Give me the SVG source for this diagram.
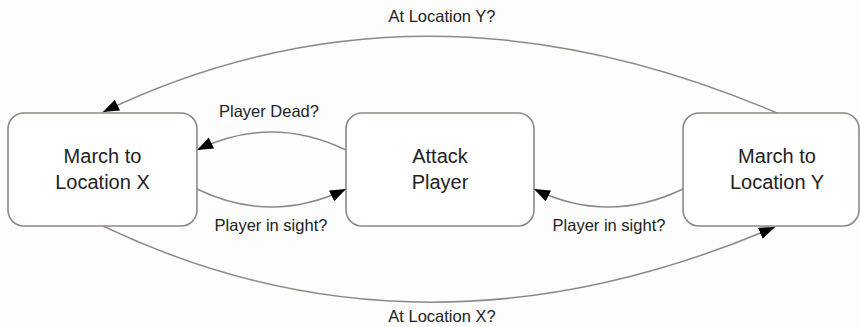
<svg xmlns="http://www.w3.org/2000/svg" width="860" height="327" viewBox="0 0 860 327">
<style>
.node rect{fill:#ffffff;stroke:#8e8884;stroke-width:1.6}
.node text{font-family:"Liberation Sans",Arial,sans-serif;font-size:20px;fill:#222;text-anchor:middle}
.edge{fill:none;stroke:#8e8884;stroke-width:1.5;marker-end:url(#arr)}
.lbl{font-family:"Liberation Sans",Arial,sans-serif;font-size:16.5px;fill:#222;text-anchor:middle}
</style>
<defs>
<marker id="arr" markerUnits="userSpaceOnUse" markerWidth="18" markerHeight="14" refX="16" refY="6" orient="auto">
<path d="M0,0 L16,6 L0,12 z" fill="#000"/>
</marker>
</defs>
<rect width="860" height="327" fill="#fdfdfd"/>
<g id="connectors">
<path class="edge" d="M777,113 Q420,-40 103,112"/>
<path class="edge" d="M346,150 Q271,114 197,150"/>
<path class="edge" d="M197,189 Q271,225 346,189"/>
<path class="edge" d="M683,189 Q608,225 534,189"/>
<path class="edge" d="M103,226 Q421,378 775,227"/>
<text class="lbl" x="442" y="22">At Location Y?</text>
<text class="lbl" x="269" y="117">Player Dead?</text>
<text class="lbl" x="271" y="231">Player in sight?</text>
<text class="lbl" x="609" y="231">Player in sight?</text>
<text class="lbl" x="442" y="322">At Location X?</text>
</g>
<g id="marchX" class="node">
<rect x="8" y="113" width="189" height="113" rx="16"/>
<text x="102.5" y="163">March to</text>
<text x="102.5" y="189">Location X</text>
</g>
<g id="attack" class="node">
<rect x="346" y="113" width="188" height="113" rx="16"/>
<text x="440" y="163">Attack</text>
<text x="440" y="189">Player</text>
</g>
<g id="marchY" class="node">
<rect x="683" y="113" width="176" height="113" rx="16"/>
<text x="777" y="163">March to</text>
<text x="777" y="189">Location Y</text>
</g>
</svg>
